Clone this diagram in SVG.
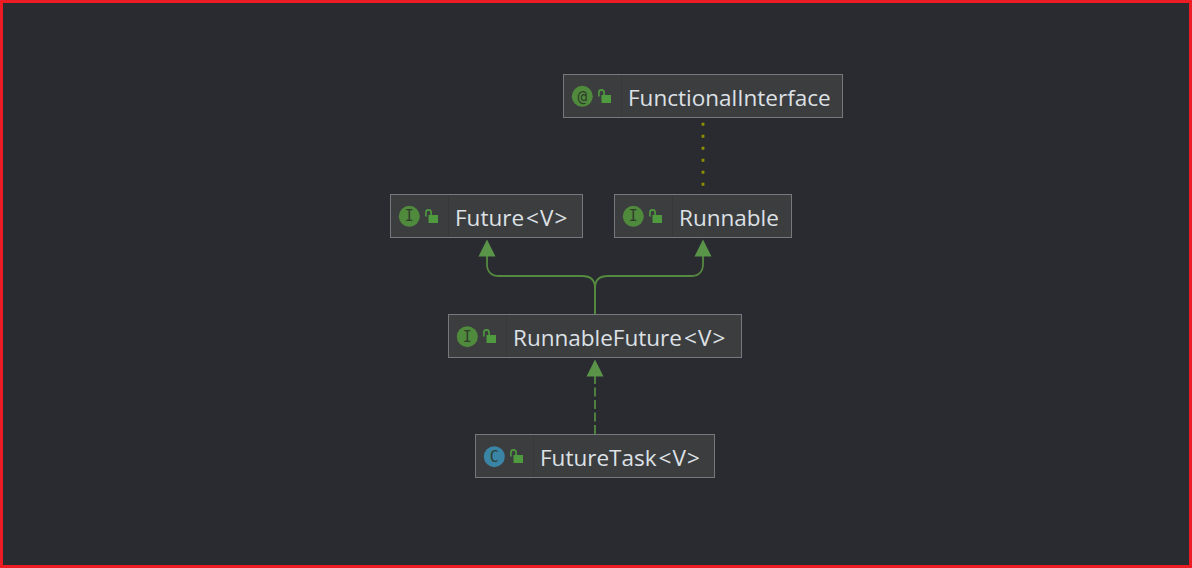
<svg xmlns="http://www.w3.org/2000/svg" width="1192" height="568" viewBox="0 0 1192 568">
<style>
.box{fill:#3c3d3f;stroke:#76787b;stroke-width:1}
.div{stroke:#37383a;stroke-width:1}
.lbl{font-family:"Open Sans","Noto Sans",sans-serif;font-size:22.5px;fill:#dde1e6}
.gen{letter-spacing:1.1px}
.ico{font-family:"DejaVu Sans Mono","Liberation Mono",monospace;font-size:15px;text-anchor:middle;fill:#2f3d2b}
.i{fill:#4f8a3d}
.c{fill:#3a85a6}
.conn{fill:none;stroke:#54893f;stroke-width:1.8}
.head{fill:#5a9448}
.lockb{fill:#4f9a3f}
.locks{fill:none;stroke:#4f9a3f;stroke-width:1.6}
</style>
<defs>
<g id="lock"><rect x="0" y="0" width="9.5" height="8" class="lockb"/><path d="M-2.6 1.5V-2.5a2.6 2.6 0 0 1 5.2 0V0.5" class="locks"/></g>
</defs>
<rect x="1.5" y="1.5" width="1189" height="565" fill="#2a2b30" stroke="#ed1c24" stroke-width="3"/>
<g id="connectors">
<path d="M703 118V186" fill="none" stroke="#8f8f00" stroke-width="2.8" stroke-dasharray="3 9" stroke-dashoffset="-4.8"/>
<path class="conn" d="M595 314V288C595 280 590 276 582 276H499C492 276 487 272 487 264V255"/>
<path class="conn" d="M595 314V288C595 280 600 276 608 276H691C698 276 703 272 703 264V255"/>
<path class="conn" d="M595 434V376" stroke-dasharray="9 3.5"/>
<polygon class="head" points="487,239.5 478.5,256.5 495.5,256.5"/>
<polygon class="head" points="703,239.5 694.5,256.5 711.5,256.5"/>
<polygon class="head" points="595,359.5 586.5,376.5 603.5,376.5"/>
</g>
<g id="FunctionalInterface">
<rect class="box" x="563.5" y="74.5" width="279" height="43"/>
<path class="div" d="M621.5 75V117"/>
<circle class="i" cx="582.3" cy="96.3" r="10.5"/>
<text class="ico" x="582.3" y="101.5" style="font-size:16px">@</text>
<use href="#lock" x="601.5" y="95"/>
<text class="lbl" x="628" y="106">FunctionalInterface</text>
</g>
<g id="Future">
<rect class="box" x="390.5" y="194.5" width="192" height="43"/>
<path class="div" d="M448.5 195V237"/>
<circle class="i" cx="409.3" cy="216.3" r="10.5"/>
<text class="ico" x="409.3" y="221.3">I</text>
<use href="#lock" x="428.5" y="215"/>
<text class="lbl" x="455" y="226">Future<tspan class="gen" dx="2">&lt;V&gt;</tspan></text>
</g>
<g id="Runnable">
<rect class="box" x="614.5" y="194.5" width="177" height="43"/>
<path class="div" d="M672.5 195V237"/>
<circle class="i" cx="633.3" cy="216.3" r="10.5"/>
<text class="ico" x="633.3" y="221.3">I</text>
<use href="#lock" x="652.5" y="215"/>
<text class="lbl" x="679" y="226">Runnable</text>
</g>
<g id="RunnableFuture">
<rect class="box" x="448.5" y="314.5" width="293" height="43"/>
<path class="div" d="M506.5 315V357"/>
<circle class="i" cx="467.3" cy="336.7" r="10.5"/>
<text class="ico" x="467.3" y="341.7">I</text>
<use href="#lock" x="486.5" y="335"/>
<text class="lbl" x="513" y="346">RunnableFuture<tspan class="gen" dx="2">&lt;V&gt;</tspan></text>
</g>
<g id="FutureTask">
<rect class="box" x="475.5" y="434.5" width="239" height="43"/>
<path class="div" d="M533.5 435V477"/>
<circle class="c" cx="494.3" cy="456.7" r="10.5"/>
<text class="ico" x="494.3" y="461.7">C</text>
<use href="#lock" x="513.5" y="455"/>
<text class="lbl" x="540" y="466">FutureTask<tspan class="gen" dx="2">&lt;V&gt;</tspan></text>
</g>
</svg>
